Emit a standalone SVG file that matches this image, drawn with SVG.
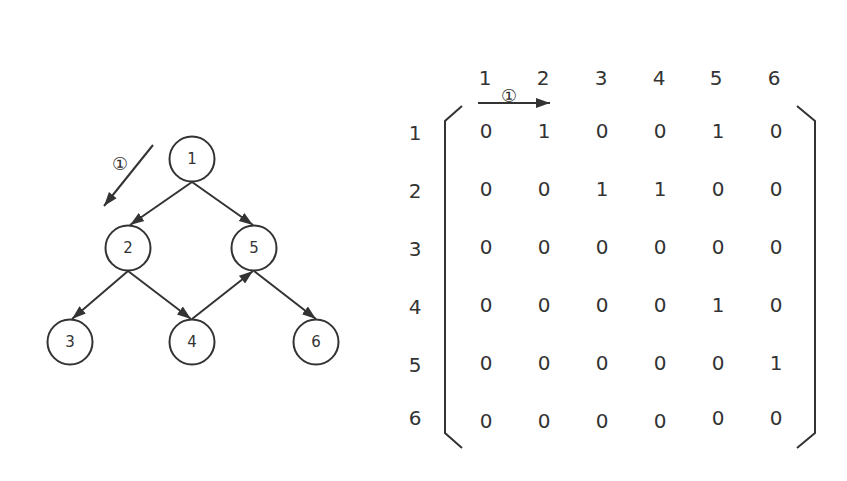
<svg xmlns="http://www.w3.org/2000/svg" width="847" height="481" viewBox="0 0 847 481">
<style>
.n circle{fill:#fff;stroke:#333;stroke-width:2}
.n text{font-family:"DejaVu Sans",sans-serif;font-size:15px;fill:#333;text-anchor:middle;dominant-baseline:central}
.e line{stroke:#333;stroke-width:2}
.m{font-family:"DejaVu Sans",sans-serif;font-size:20px;fill:#333;text-anchor:middle;dominant-baseline:central}
.lb{font-family:"DejaVu Sans",sans-serif;font-size:18px;fill:#333;text-anchor:middle;dominant-baseline:central}
.br{fill:none;stroke:#333;stroke-width:2}
</style>
<defs>
<marker id="b" viewBox="0 0 10 10" refX="10" refY="5" markerWidth="14" markerHeight="14" orient="auto" markerUnits="userSpaceOnUse">
<path d="M0,1.5 L10,5 L0,8.5 z" fill="#333"/>
</marker>
</defs>
<rect width="847" height="481" fill="#fff"/>
<g id="connectors" class="e">
<line x1="192" y1="182" x2="130" y2="225" marker-end="url(#b)"/>
<line x1="192" y1="182" x2="253" y2="225" marker-end="url(#b)"/>
<line x1="128" y1="271" x2="72" y2="319" marker-end="url(#b)"/>
<line x1="128" y1="271" x2="191" y2="319" marker-end="url(#b)"/>
<line x1="192" y1="319" x2="253" y2="271" marker-end="url(#b)"/>
<line x1="254" y1="271" x2="316" y2="319" marker-end="url(#b)"/>
<line x1="153" y1="145" x2="104" y2="206" marker-end="url(#b)"/>
<line x1="478" y1="103" x2="550" y2="103" marker-end="url(#b)"/>
</g>
<text class="lb" x="120" y="163">①</text>
<text class="lb" x="509" y="95">①</text>
<g id="node1" class="n"><circle cx="192" cy="159" r="22.5"/><text x="192" y="159">1</text></g>
<g id="node2" class="n"><circle cx="128" cy="248" r="22.5"/><text x="128" y="248">2</text></g>
<g id="node5" class="n"><circle cx="254" cy="248" r="22.5"/><text x="254" y="248">5</text></g>
<g id="node3" class="n"><circle cx="70" cy="342" r="22.5"/><text x="70" y="342">3</text></g>
<g id="node4" class="n"><circle cx="192" cy="342" r="22.5"/><text x="192" y="342">4</text></g>
<g id="node6" class="n"><circle cx="316" cy="342" r="22.5"/><text x="316" y="342">6</text></g>
<g id="matrix">
<polyline class="br" points="462,106 445,121 445,433 462,448"/>
<polyline class="br" points="797,106 815,121 815,433 797,448"/>
<g class="m">
<text x="485" y="78">1</text><text x="543" y="78">2</text><text x="601" y="78">3</text><text x="659" y="78">4</text><text x="716" y="78">5</text><text x="774" y="78">6</text>
<text x="415" y="133">1</text><text x="415" y="191">2</text><text x="415" y="249">3</text><text x="415" y="307">4</text><text x="415" y="365">5</text><text x="415" y="418">6</text>
<text x="486" y="131">0</text><text x="544" y="131">1</text><text x="602" y="131">0</text><text x="660" y="131">0</text><text x="718" y="131">1</text><text x="776" y="131">0</text>
<text x="486" y="189">0</text><text x="544" y="189">0</text><text x="602" y="189">1</text><text x="660" y="189">1</text><text x="718" y="189">0</text><text x="776" y="189">0</text>
<text x="486" y="247">0</text><text x="544" y="247">0</text><text x="602" y="247">0</text><text x="660" y="247">0</text><text x="718" y="247">0</text><text x="776" y="247">0</text>
<text x="486" y="305">0</text><text x="544" y="305">0</text><text x="602" y="305">0</text><text x="660" y="305">0</text><text x="718" y="305">1</text><text x="776" y="305">0</text>
<text x="486" y="363">0</text><text x="544" y="363">0</text><text x="602" y="363">0</text><text x="660" y="363">0</text><text x="718" y="363">0</text><text x="776" y="363">1</text>
<text x="486" y="421">0</text><text x="544" y="421">0</text><text x="602" y="421">0</text><text x="660" y="421">0</text><text x="718" y="418">0</text><text x="776" y="418">0</text>
</g>
</g>
</svg>
